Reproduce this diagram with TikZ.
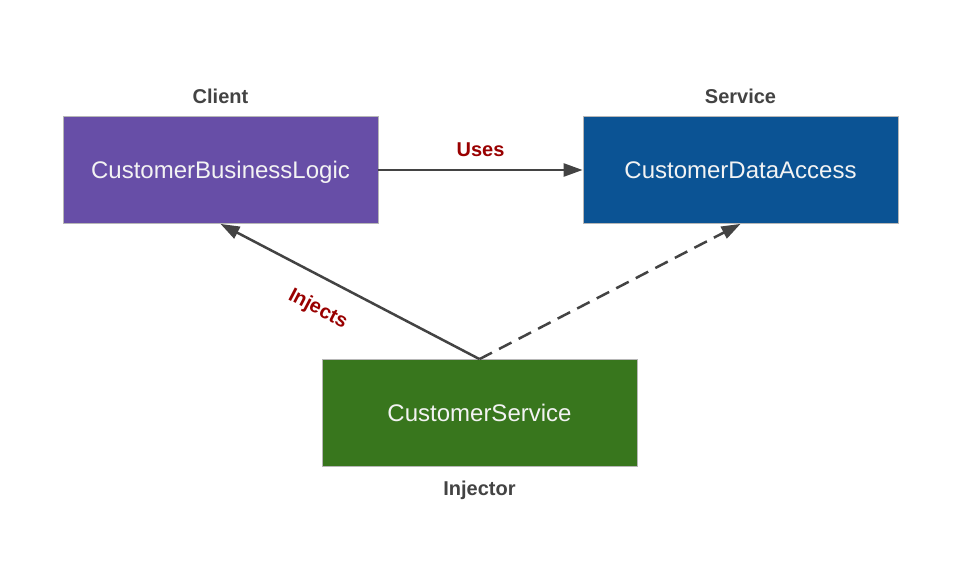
\documentclass[tikz,border=0pt]{standalone}
\usepackage{fontspec}
\setmainfont{Liberation Sans}
\usetikzlibrary{arrows.meta}
\definecolor{cpurple}{HTML}{674EA7}
\definecolor{cblue}{HTML}{0B5394}
\definecolor{cgreen}{HTML}{38761D}
\definecolor{cline}{HTML}{434343}
\definecolor{cred}{HTML}{990000}
\definecolor{cborder}{HTML}{B7B7B7}
\definecolor{ctext}{HTML}{F3F3F3}
\tikzset{
  compbox/.style={draw=cborder, line width=0.8pt, minimum width=315pt, minimum height=107pt,
    inner sep=0pt, text depth=0pt, text=ctext, font=\fontsize{24pt}{28pt}\selectfont},
  rolelabel/.style={text=cline, font=\bfseries\fontsize{20pt}{24pt}\selectfont, inner sep=0pt},
  edgelabel/.style={text=cred, font=\bfseries\fontsize{20pt}{24pt}\selectfont, inner sep=0pt},
  conn/.style={draw=cline, line width=2.5pt},
}
\begin{document}
\begin{tikzpicture}[x=1pt,y=-1pt]
\useasboundingbox[fill=white] (0,0) rectangle (960,575);
\node[compbox, fill=cpurple] (client) at (220.5,170) {CustomerBusinessLogic};
\node[compbox, fill=cblue] (service) at (740.5,170) {CustomerDataAccess};
\node[compbox, fill=cgreen] (injector) at (479.5,413) {CustomerService};
\node[rolelabel] (clientlbl) at (220.5,96) {Client};
\node[rolelabel] (servicelbl) at (740.5,96) {Service};
\node[rolelabel] (injectorlbl) at (479.5,490) {Injector};
\draw[conn, -{Triangle[length=19pt,width=13pt]}] (client.east) -- node[edgelabel, above=12pt] {Uses} (service.west);
\draw[conn, {Triangle[length=19pt,width=13pt]}-] (client.south) -- node[edgelabel, pos=0.43, sloped, below=20pt] {Injects} (injector.north);
\draw[conn, dash pattern=on 14pt off 8pt, -{Triangle[length=19pt,width=13pt]}] (injector.north) -- (service.south);
\end{tikzpicture}
\end{document}
